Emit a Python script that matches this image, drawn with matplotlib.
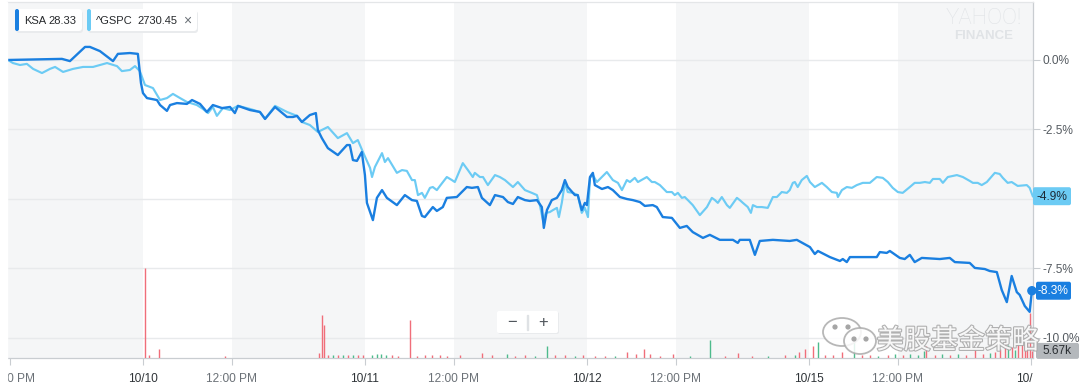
import matplotlib
matplotlib.use("Agg")
import matplotlib.pyplot as plt
from matplotlib.patches import FancyBboxPatch, Ellipse, Circle, Rectangle
from matplotlib.transforms import Bbox, TransformedBbox, IdentityTransform
import matplotlib.patheffects as pe

plt.rcParams['font.family'] = ['Liberation Sans', 'DejaVu Sans']

# ---------------- data (time in trading days from 10/10 open) ----------------
KSA_T = [-0.608, -0.365, -0.329, -0.261, -0.239, -0.194, -0.135, -0.113, -0.059, -0.023,
         -0.009, 0.000, 0.018, 0.063, 0.077, 0.108, 0.122, 0.153, 0.198, 0.221,
         0.257, 0.288, 0.315, 0.356, 0.392, 0.414, 0.428, 0.482, 0.527, 0.550,
         0.595, 0.649, 0.676, 0.694, 0.716, 0.752, 0.779, 0.788, 0.806, 0.833,
         0.878, 0.919, 0.932, 0.946, 0.964, 0.986, 1.000, 1.009, 1.036, 1.054,
         1.077, 1.099, 1.144, 1.180, 1.212, 1.234, 1.257, 1.270, 1.306, 1.324,
         1.351, 1.369, 1.414, 1.459, 1.482, 1.509, 1.527, 1.563, 1.586, 1.622,
         1.644, 1.667, 1.689, 1.721, 1.743, 1.775, 1.797, 1.806, 1.820, 1.842,
         1.865, 1.887, 1.901, 1.914, 1.946, 1.959, 1.977, 1.991, 2.000, 2.014,
         2.027, 2.036, 2.068, 2.095, 2.117, 2.149, 2.180, 2.207, 2.239, 2.261,
         2.297, 2.315, 2.342, 2.383, 2.419, 2.450, 2.477, 2.523, 2.554, 2.599,
         2.658, 2.680, 2.689, 2.734, 2.757, 2.779, 2.838, 2.914, 2.946, 3.005,
         3.027, 3.041, 3.095, 3.140, 3.153, 3.171, 3.185, 3.306, 3.320, 3.351,
         3.365, 3.410, 3.432, 3.455, 3.477, 3.509, 3.590, 3.635, 3.658, 3.725,
         3.748, 3.793, 3.815, 3.847, 3.869, 3.892, 3.914, 3.937, 3.950, 3.973,
         3.995, 4.005]
KSA_PCT = [0.00, 0.04, -0.04, 0.47, 0.47, 0.32, -0.04, 0.22, 0.25, 0.22,
           -0.83, -1.19, -1.37, -1.44, -1.62, -1.83, -1.62, -1.55, -1.58, -1.44,
           -1.58, -1.87, -1.62, -1.73, -1.69, -1.91, -1.65, -1.80, -1.87, -2.12,
           -1.69, -2.05, -2.05, -2.01, -2.23, -1.98, -1.91, -2.52, -2.81, -3.17,
           -3.42, -3.06, -3.06, -3.60, -3.63, -3.31, -4.14, -5.14, -5.76, -4.96,
           -4.68, -4.96, -5.22, -4.86, -5.04, -5.07, -5.61, -5.65, -5.29, -5.43,
           -5.29, -4.96, -4.93, -4.57, -4.60, -4.57, -4.96, -5.22, -4.86, -4.93,
           -5.11, -5.18, -4.93, -5.04, -5.07, -5.04, -5.29, -6.04, -5.40, -5.04,
           -4.96, -4.68, -4.32, -4.57, -4.86, -4.86, -5.40, -5.14, -5.22, -4.21,
           -4.06, -4.50, -4.64, -4.57, -4.68, -4.93, -5.00, -5.04, -5.11, -5.25,
           -5.22, -5.29, -5.65, -5.68, -6.04, -5.97, -6.19, -6.40, -6.29, -6.47,
           -6.47, -6.58, -6.47, -6.47, -7.01, -6.51, -6.47, -6.51, -6.47, -6.73,
           -6.98, -6.87, -7.09, -7.23, -7.16, -7.27, -7.09, -7.09, -6.91, -6.94,
           -6.87, -7.12, -7.16, -7.01, -7.27, -7.12, -7.16, -7.12, -7.27, -7.30,
           -7.48, -7.52, -7.59, -7.63, -8.27, -8.71, -7.77, -8.35, -8.45, -8.85,
           -9.06, -8.30]

GSPC_T = [-0.608, -0.586, -0.554, -0.523, -0.495, -0.455, -0.419, -0.396, -0.360, -0.315,
          -0.270, -0.225, -0.194, -0.162, -0.117, -0.095, -0.059, -0.036, -0.014, 0.009,
          0.045, 0.077, 0.108, 0.135, 0.167, 0.198, 0.243, 0.270, 0.293, 0.315,
          0.333, 0.360, 0.392, 0.428, 0.482, 0.527, 0.550, 0.595, 0.649, 0.694,
          0.716, 0.752, 0.788, 0.833, 0.878, 0.919, 0.946, 0.968, 0.991, 1.023,
          1.032, 1.045, 1.077, 1.090, 1.104, 1.144, 1.167, 1.189, 1.212, 1.225,
          1.239, 1.257, 1.270, 1.293, 1.306, 1.324, 1.338, 1.369, 1.392, 1.405,
          1.441, 1.464, 1.486, 1.495, 1.518, 1.532, 1.554, 1.586, 1.608, 1.631,
          1.667, 1.689, 1.721, 1.752, 1.775, 1.788, 1.802, 1.815, 1.833, 1.847,
          1.865, 1.874, 1.887, 1.901, 1.914, 1.937, 1.959, 1.977, 1.991, 2.005,
          2.014, 2.027, 2.045, 2.090, 2.117, 2.140, 2.158, 2.180, 2.194, 2.216,
          2.230, 2.270, 2.293, 2.306, 2.329, 2.360, 2.383, 2.396, 2.410, 2.428,
          2.441, 2.455, 2.477, 2.509, 2.541, 2.563, 2.577, 2.590, 2.608, 2.631,
          2.644, 2.676, 2.689, 2.703, 2.725, 2.739, 2.748, 2.766, 2.788, 2.815,
          2.838, 2.856, 2.878, 2.901, 2.914, 2.928, 2.937, 2.950, 2.968, 2.991,
          3.005, 3.027, 3.059, 3.081, 3.104, 3.126, 3.131, 3.149, 3.171, 3.194,
          3.216, 3.243, 3.275, 3.306, 3.333, 3.356, 3.378, 3.401, 3.423, 3.455,
          3.477, 3.500, 3.523, 3.545, 3.559, 3.590, 3.604, 3.626, 3.667, 3.694,
          3.725, 3.739, 3.761, 3.779, 3.802, 3.838, 3.860, 3.874, 3.896, 3.914,
          3.941, 3.982, 3.995, 4.009]
GSPC_PCT = [0.00, -0.11, -0.18, -0.14, -0.32, -0.47, -0.32, -0.25, -0.43, -0.32,
            -0.25, -0.25, -0.18, -0.11, -0.22, -0.40, -0.36, -0.22, -0.40, -0.90,
            -1.01, -1.44, -1.37, -1.22, -1.37, -1.51, -1.62, -1.76, -1.91, -1.69,
            -2.01, -1.73, -1.80, -1.65, -1.76, -1.87, -2.12, -1.65, -1.87, -2.01,
            -2.23, -2.34, -2.59, -2.41, -2.81, -2.63, -2.99, -2.88, -3.31, -3.88,
            -4.21, -3.85, -3.35, -3.67, -3.53, -4.06, -3.96, -3.99, -4.32, -4.32,
            -4.86, -4.78, -4.96, -4.60, -4.57, -4.68, -4.53, -4.21, -4.32, -4.39,
            -3.71, -3.96, -4.21, -4.06, -4.21, -4.21, -4.50, -4.14, -4.21, -4.32,
            -4.57, -4.39, -4.68, -4.78, -4.86, -5.22, -5.76, -5.50, -5.47, -5.40,
            -5.32, -5.65, -5.14, -4.42, -4.75, -4.78, -4.86, -5.50, -5.32, -5.65,
            -4.24, -4.14, -4.39, -4.03, -4.32, -4.42, -4.68, -4.32, -4.39, -4.24,
            -4.39, -4.21, -4.39, -4.39, -4.50, -4.75, -4.75, -4.86, -4.78, -4.96,
            -4.93, -5.04, -5.22, -5.58, -5.29, -4.96, -5.04, -5.14, -4.93, -5.22,
            -5.32, -4.96, -5.04, -5.14, -5.29, -5.50, -5.22, -5.29, -5.29, -5.32,
            -4.93, -4.93, -4.75, -4.78, -4.68, -4.42, -4.39, -4.57, -4.32, -4.17,
            -4.39, -4.57, -4.42, -4.57, -4.75, -4.78, -4.93, -4.68, -4.57, -4.60,
            -4.50, -4.42, -4.42, -4.21, -4.24, -4.39, -4.60, -4.75, -4.78, -4.57,
            -4.42, -4.42, -4.39, -4.42, -4.28, -4.28, -4.42, -4.21, -4.14, -4.21,
            -4.35, -4.42, -4.42, -4.50, -4.39, -4.06, -4.10, -4.24, -4.42, -4.39,
            -4.53, -4.50, -4.60, -4.90]

# KSA volume (thousands of shares) per bar, and whether the bar closed up
VOL_T = [0.009, 0.027, 0.072, 0.369, 0.793, 0.806, 0.815, 0.833, 0.856, 0.878,
         0.901, 0.923, 0.946, 0.968, 0.991, 1.032, 1.054, 1.072, 1.095, 1.122,
         1.149, 1.203, 1.234, 1.270, 1.302, 1.338, 1.369, 1.428, 1.527, 1.572,
         1.640, 1.676, 1.721, 1.766, 1.820, 1.856, 1.901, 1.946, 1.982, 2.036,
         2.081, 2.126, 2.180, 2.221, 2.257, 2.284, 2.329, 2.387, 2.464, 2.554,
         2.622, 2.680, 2.743, 2.815, 2.892, 2.937, 2.955, 2.982, 3.018, 3.041,
         3.072, 3.108, 3.149, 3.203, 3.239, 3.275, 3.311, 3.356, 3.387, 3.423,
         3.455, 3.491, 3.518, 3.527, 3.568, 3.599, 3.635, 3.671, 3.707, 3.748,
         3.784, 3.815, 3.838, 3.860, 3.883, 3.896, 3.914, 3.928, 3.941, 3.959,
         3.973, 3.982, 3.995, 4.005]
VOL_K = [72, 2, 7.2, 1.5, 4, 34, 26, 2, 2.5, 2,
         2.5, 2, 2.5, 2, 2.5, 2, 3.5, 3, 2.5, 2,
         1.5, 30, 1.5, 2, 2, 2, 1.5, 2, 4, 2,
         3, 1.5, 2, 1.5, 9.6, 2, 2, 1.5, 2, 1.5,
         1.5, 1.5, 4.8, 2.8, 7.5, 2.8, 1.5, 2.8, 1.5, 14,
         1.5, 3.6, 1.5, 1.5, 2, 2.5, 4.7, 7, 9.6, 12.4,
         2.5, 2, 4.7, 12.4, 2, 2.5, 1.5, 2, 3, 2.5,
         3, 2, 5.5, 9.6, 2.5, 3, 2, 3, 2.5, 6.4,
         3, 4, 5, 7, 13, 10.5, 9, 6, 12, 15,
         10, 14, 36, 5.67]
VOL_UP = [0, 0, 0, 0, 0, 0, 0, 0, 1, 0,
          1, 0, 1, 0, 0, 1, 1, 1, 1, 0,
          0, 0, 0, 0, 0, 0, 0, 0, 0, 0,
          1, 0, 0, 1, 1, 0, 0, 1, 0, 0,
          0, 1, 0, 0, 0, 0, 0, 0, 1, 1,
          0, 0, 0, 1, 0, 1, 0, 0, 0, 1,
          0, 0, 0, 1, 0, 0, 1, 0, 1, 0,
          1, 1, 1, 0, 0, 1, 0, 1, 0, 0,
          0, 1, 0, 0, 0, 1, 0, 1, 0, 0,
          0, 0, 0, 0]

TICK_POS = [-0.6, 0.0, 0.4, 1.0, 1.4, 2.0, 2.4, 3.0, 3.4, 4.0]
TICK_LAB = ['12:00 PM', '10/10', '12:00 PM', '10/11', '12:00 PM', '10/12',
            '12:00 PM', '10/15', '12:00 PM', '10/16']
Y_TICKS = [0.0, -2.5, -5.0, -7.5, -10.0]
LEGEND = [('KSA', '28.33'), ('^GSPC', '2730.45')]
LAST_VOL = '5.67k'

# ---------------- style ----------------
C_KSA = '#1a7fe0'
C_SPX = '#6ccbf4'
C_UP = '#4dbb8c'
C_DN = '#f06e7a'
C_BAND = '#f5f6f7'
C_GRID = '#e8eaec'
C_AXIS = '#c9cdd1'
C_TXT = '#555b61'

W, H = 1080, 386
fig = plt.figure(figsize=(W / 100, H / 100), dpi=100)
fig.patch.set_facecolor('white')


def fx(x):
    return x / W


def fy(y):
    return 1 - y / H


L, R, T, B = 7, 1033, 2, 358
rect = [fx(L), fy(B), fx(R) - fx(L), fy(T) - fy(B)]
ax = fig.add_axes(rect)
ax.set_xlim(-0.6126, 4.01)
ax.set_ylim(-10.72, 2.086)
ax.set_facecolor('white')

# alternating background bands (afternoon sessions shaded)
xmin, xmax = ax.get_xlim()
noon = [p for p, l in zip(TICK_POS, TICK_LAB) if l == '12:00 PM']
for i, n in enumerate(noon):
    start = xmin if i == 0 else n
    nxt = [p for p in TICK_POS if p > n]
    end = nxt[0] if nxt and i < len(noon) - 1 else xmax
    ax.axvspan(start, end, color=C_BAND, lw=0, zorder=0)

ax.set_yticks(Y_TICKS)
ax.set_yticklabels(['%.1f%%' % v for v in Y_TICKS])
ax.yaxis.tick_right()
ax.grid(axis='y', color=C_GRID, lw=1, zorder=1)
ax.tick_params(axis='y', length=5, width=0.8, color=C_AXIS, pad=2,
               labelsize=8.6, labelcolor=C_TXT)
# the -5.0% label sits fully behind the S&P end tag in the reference
for v, lab in zip(Y_TICKS, ax.get_yticklabels()):
    if v == -5.0:
        lab.set_visible(False)

ax.plot(GSPC_T, GSPC_PCT, color=C_SPX, lw=1.55, zorder=3, solid_joinstyle='round')
ax.plot(KSA_T, KSA_PCT, color=C_KSA, lw=1.7, zorder=4, solid_joinstyle='round')

ax.spines['left'].set_visible(False)
ax.spines['top'].set_color('#e4e6e8')
ax.spines['right'].set_color(C_AXIS)
ax.spines['bottom'].set_color(C_AXIS)
for s in ['top', 'right', 'bottom']:
    ax.spines[s].set_linewidth(0.9)

ax.set_xticks(TICK_POS)
ax.set_xticklabels(TICK_LAB)
ax.tick_params(axis='x', length=5, width=0.8, color=C_AXIS, pad=6, labelsize=8.6)
clip = TransformedBbox(Bbox([[fx(L), 0], [fx(R), 1]]), fig.transFigure)
for lab in ax.get_xticklabels():
    lab.set_clip_on(True)
    lab.set_clip_box(clip)
    if lab.get_text() == '12:00 PM':
        lab.set_color('#6b7177')
    else:
        lab.set_color('#2f3438')

# volume overlay
axv = fig.add_axes(rect, sharex=ax)
axv.patch.set_visible(False)
axv.axis('off')
axv.set_ylim(0, 284)
cols = [C_UP if u else C_DN for u in VOL_UP]
axv.vlines(VOL_T, 0, VOL_K, colors=cols, lw=1.0, zorder=2)
ax.set_xlim(-0.6126, 4.01)

fig.canvas.draw()


def box(x0, y0, x1, y1, fc, ec='none', r=3, z=20, lw=0.8):
    p = FancyBboxPatch((x0, H - y1), x1 - x0, y1 - y0,
                       boxstyle='round,pad=0,rounding_size=%g' % r,
                       fc=fc, ec=ec, lw=lw, transform=IdentityTransform(), zorder=z)
    fig.add_artist(p)
    return p


def ftext(x, y, s, **kw):
    kw.setdefault('zorder', 30)
    return fig.text(fx(x), fy(y), s, **kw)


# legend chips
chips = [(15, 82, C_KSA), (87, 197, C_SPX)]
for (x0, x1, c), (name, val) in zip(chips, LEGEND):
    box(x0 + 1, 11, x1 + 1, 33, '#e9ebed', r=3, z=18)
    box(x0, 9, x1, 31, 'white', r=3, z=19)
    box(x0, 9, x0 + 4, 31, c, r=2, z=20)
    ftext(x0 + 9, 20.5, name, fontsize=8, color='#26292c', va='center')
    ftext(x0 + 9 + (24 if name == 'KSA' else 41), 20.5, val, fontsize=8,
          color='#26292c', va='center')
ftext(187, 20.5, '\u00d7', fontsize=10, color='#6b7177', va='center', ha='center')

# Yahoo watermark
ftext(984, 18, 'YAHOO!', fontsize=16, color='#e0e3e6', ha='center', va='center',
      family=['Roboto', 'DejaVu Sans'], weight='light')
ftext(984, 36, 'FINANCE', fontsize=9.5, color='#e0e3e6', ha='center', va='center',
      weight='bold')

# zoom buttons
box(498, 312, 559, 334, '#e9ebed', r=2, z=18)
box(497, 311, 558, 333, 'white', r=2, z=19)
ftext(512, 322, '\u2212', fontsize=12, color='#50565c', ha='center', va='center')
ftext(543, 322, '+', fontsize=12, color='#50565c', ha='center', va='center')
fig.add_artist(Rectangle((527, H - 330), 0.8, 15, color='#dfe2e5',
                         transform=IdentityTransform(), zorder=21))


# end-of-series tags
def data_px(x, y):
    dx, dy = ax.transData.transform((x, y))
    return dx, H - dy


sx, sy = data_px(GSPC_T[-1], GSPC_PCT[-1])
box(1033, sy - 9, 1071, sy + 9, C_SPX, r=2, z=22)
ftext(1052, sy + 0.5, '%.1f%%' % GSPC_PCT[-1], fontsize=8.6, color='#1d2a36',
      ha='center', va='center')

kx, ky = data_px(KSA_T[-1], KSA_PCT[-1])
box(1036, ky - 9, 1071, ky + 9, C_KSA, r=2, z=22)
fig.add_artist(Circle((kx, H - ky), 4, color=C_KSA, transform=IdentityTransform(),
                      zorder=23))
ftext(1053, ky + 0.5, '%.1f%%' % KSA_PCT[-1], fontsize=8.6, color='white',
      ha='center', va='center')

vx, vy = axv.transData.transform((VOL_T[-1], VOL_K[-1]))
box(1036, H - vy - 8, 1079, H - vy + 8, '#b4b8bc', r=2, z=22)
ftext(1057, H - vy + 0.5, LAST_VOL, fontsize=8.6, color='#2a2e32',
      ha='center', va='center')

# WeChat watermark
logo = [((842, 332), 38, 28), ((860, 341), 32, 26)]
for (cx, cy), w, h in logo:
    fig.add_artist(Ellipse((cx, H - cy), w, h, fc='white', ec='#ababab', lw=1.3,
                           alpha=0.85, transform=IdentityTransform(), zorder=24))
for ex, ey in [(835, 327), (848, 327), (854, 339), (866, 339)]:
    fig.add_artist(Circle((ex, H - ey), 1.9, color='#a5a5a5',
                          transform=IdentityTransform(), zorder=25))
ftext(958, 341, '美股基金策略', fontsize=19.5, color='white', ha='center', va='center',
      family=['Noto Sans CJK SC', 'DejaVu Sans'], alpha=0.9,
      path_effects=[pe.withStroke(linewidth=1.6, foreground='#a9a9a9')], zorder=24)

# keep the clipped left label edge clean
fig.add_artist(Rectangle((0, 0), L, H - T, color='white',
                         transform=IdentityTransform(), zorder=15))

fig.savefig('out.png', dpi=100, facecolor='white')
